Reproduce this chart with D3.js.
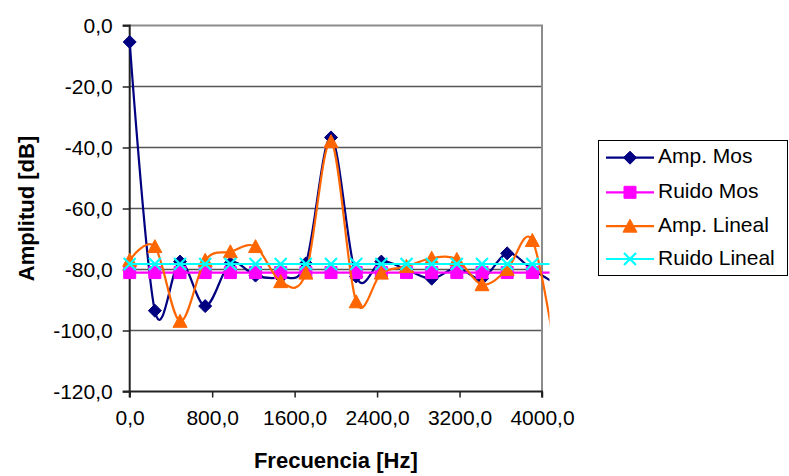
<!DOCTYPE html>
<html>
<head>
<meta charset="utf-8">
<script src="https://cdn.jsdelivr.net/npm/d3@7"></script>
<style>
  body { margin: 0; background: #fff; }
  text { font-family: Arial, "Liberation Sans", sans-serif; fill: #000; }
</style>
</head>
<body>
<svg id="chart"></svg>
<script>
// frequency bins (Hz) - last one lies past the axis end and gets clipped
let freqs = [0, 244.1, 488.3, 732.4, 976.6, 1220.7, 1464.8, 1709.0, 1953.1,
             2197.3, 2441.4, 2685.5, 2929.7, 3173.8, 3417.9, 3662.1, 3906.3, 4150.4];

let ampMos    = [-5.4, -93.5, -77.4, -92, -78, -82, -82.5, -78, -36.7,
                 -82.3, -77.4, -80, -83, -79.5, -83, -74.7, -80, -85];
let ruidoMos  = [-81, -81, -81, -81, -81, -81, -81, -81, -81,
                 -81, -81, -81, -81, -81, -81, -81, -81, -81];
let ampLineal = [-77, -72.5, -97, -77, -74.2, -72.5, -84, -81.2, -38.1,
                 -90.6, -81.2, -79, -76.3, -76.7, -85, -80, -70.5, -112];
let ruidoLin  = [-78.2, -78.2, -78.2, -78.2, -78.2, -78.2, -78.2, -78.2, -78.2,
                 -78.2, -78.2, -78.2, -78.2, -78.2, -78.2, -78.2, -78.2, -78.2];

let seriesNames = ['Amp. Mos', 'Ruido Mos', 'Amp. Lineal', 'Ruido Lineal'];
let xTicks = [0, 800, 1600, 2400, 3200, 4000];
let yTicks = [0, -20, -40, -60, -80, -100, -120];

let svgWidth = 789, svgHeight = 476;
let plotLeft = 129.7, plotRight = 542, plotTop = 25.5, plotBottom = 391.5;

let svg = d3.select('#chart')
            .attr('width', svgWidth)
            .attr('height', svgHeight);

let x = d3.scaleLinear().domain([0, 4000]).range([plotLeft, plotRight]);
let y = d3.scaleLinear().domain([-120, 0]).range([plotBottom, plotTop]);

let fmt = d => d3.format('.1f')(d).replace('.', ',').replace('−', '-');

// gridlines
svg.append('g')
   .selectAll('line')
   .data(yTicks.filter(d => d > -120 && d < 0))
   .enter()
   .append('line')
   .attr('x1', plotLeft).attr('x2', plotRight)
   .attr('y1', d => y(d)).attr('y2', d => y(d))
   .attr('stroke', '#555').attr('stroke-width', 1.3);

// plot border top/right
svg.append('path')
   .attr('d', `M${plotLeft},${plotTop}H${plotRight}V${plotBottom}`)
   .attr('fill', 'none').attr('stroke', '#8c8c8c').attr('stroke-width', 2);

// axes
let yAxis = d3.axisLeft(y).tickValues(yTicks).tickFormat(fmt).tickSize(7).tickPadding(10);
let yG = svg.append('g').attr('transform', `translate(${plotLeft},0)`).call(yAxis);
let xAxis = d3.axisBottom(x).tickValues(xTicks).tickFormat(fmt).tickSize(6).tickPadding(13);
let xG = svg.append('g').attr('transform', `translate(0,${plotBottom})`).call(xAxis);

[yG, xG].forEach(g => {
  g.select('.domain').attr('stroke', '#222').attr('stroke-width', 2);
  g.selectAll('.tick line').attr('stroke', '#222').attr('stroke-width', 1.5);
  g.selectAll('.tick text').style('font-size', '21px').attr('fill', '#000');
});
yG.select('.domain').attr('d', `M-7,${plotTop}H0V${plotBottom}H-7`);
xG.select('.domain').attr('d', `M${plotLeft},6V0H${plotRight}V6`);

// axis titles
svg.append('text')
   .attr('transform', `translate(28,${(plotTop + plotBottom) / 2}) rotate(-90)`)
   .attr('text-anchor', 'middle').attr('dominant-baseline', 'middle')
   .style('font-size', '22px').style('font-weight', 'bold')
   .text('Amplitud [dB]');
svg.append('text')
   .attr('x', (plotLeft + plotRight) / 2).attr('y', 462)
   .attr('text-anchor', 'middle').attr('dominant-baseline', 'middle')
   .style('font-size', '22px').style('font-weight', 'bold')
   .text('Frecuencia [Hz]');

// markers
let markers = {
  diamond: s => `M0,${-s}L${s},0L0,${s}L${-s},0Z`,
  square: s => `M${-s},${-s}H${s}V${s}H${-s}Z`,
  triangle: s => `M0,${-s}L${s},${s * 0.85}H${-s}Z`,
  cross: s => `M${-s},${-s}L${s},${s}M${s},${-s}L${-s},${s}`
};

let series = [
  {name: seriesNames[0], values: ampMos, color: '#000080', marker: 'diamond', size: 6.5},
  {name: seriesNames[1], values: ruidoMos, color: '#ff00ff', marker: 'square', size: 6},
  {name: seriesNames[2], values: ampLineal, color: '#ff6600', marker: 'triangle', size: 7},
  {name: seriesNames[3], values: ruidoLin, color: '#00ffff', marker: 'cross', size: 6}
];

svg.append('clipPath').attr('id', 'clip')
   .append('rect').attr('x', 0).attr('y', 0).attr('width', 549.5).attr('height', svgHeight);

let line = d3.line().x(d => x(d[0])).y(d => y(d[1])).curve(d3.curveCardinal);

let plot = svg.append('g').attr('clip-path', 'url(#clip)');

series.forEach(s => {
  let pts = freqs.map((f, i) => [f, s.values[i]]);
  plot.append('path')
      .attr('d', line(pts))
      .attr('fill', 'none')
      .attr('stroke', s.color)
      .attr('stroke-width', 2.2);
  plot.selectAll(null)
      .data(pts)
      .enter()
      .append('path')
      .attr('transform', d => `translate(${x(d[0])},${y(d[1])})`)
      .attr('d', markers[s.marker](s.size))
      .attr('fill', s.marker === 'cross' ? 'none' : s.color)
      .attr('stroke', s.color)
      .attr('stroke-width', s.marker === 'cross' ? 2.2 : 1);
});

// legend
let legend = svg.append('g');
legend.append('rect')
      .attr('x', 598.5).attr('y', 140.5).attr('width', 189).attr('height', 135)
      .attr('fill', '#fff').attr('stroke', '#000').attr('stroke-width', 1);

let legendY = [157.7, 192.3, 226.2, 259];
series.forEach((s, i) => {
  let g = legend.append('g').attr('transform', `translate(0,${legendY[i]})`);
  g.append('line').attr('x1', 606).attr('x2', 654).attr('y1', 0).attr('y2', 0)
   .attr('stroke', s.color).attr('stroke-width', 2.2);
  g.append('path').attr('transform', 'translate(630,0)')
   .attr('d', markers[s.marker](s.size))
   .attr('fill', s.marker === 'cross' ? 'none' : s.color)
   .attr('stroke', s.color)
   .attr('stroke-width', s.marker === 'cross' ? 2.2 : 1);
  g.append('text').attr('x', 658).attr('y', 0)
   .attr('dominant-baseline', 'middle')
   .style('font-size', '21px')
   .text(s.name);
});
</script>
</body>
</html>
